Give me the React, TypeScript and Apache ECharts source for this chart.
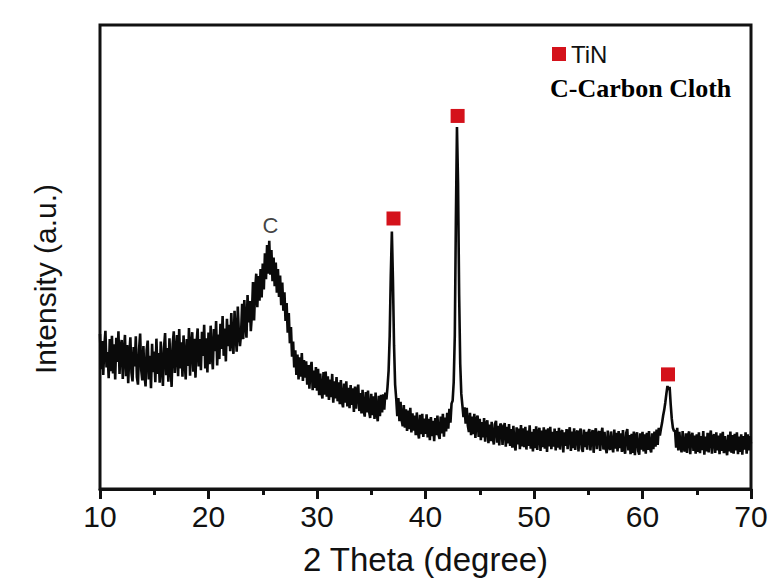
import React, { useEffect, useRef } from "react";
import * as echarts from "echarts";

// 2θ sampling: 10.0° .. 70.0° every 0.1°
const angleStart = 10;
const angleStep = 0.1;

const intensity: number[] = [
  33.4, 25.8, 31.9, 24.6, 30.8, 34.1, 26.2, 29.5, 23.9, 32.3, // 10
  25.4, 33.0, 24.9, 31.2, 23.6, 32.6, 27.4, 34.0, 24.8, 30.5, // 11
  32.1, 23.7, 29.6, 33.2, 24.3, 31.0, 22.8, 28.9, 32.7, 25.1, // 12
  23.2, 30.6, 26.4, 32.9, 24.1, 22.5, 30.1, 33.5, 25.6, 23.4, // 13
  30.8, 24.7, 22.1, 29.9, 32.0, 23.6, 28.7, 21.7, 31.3, 25.2, // 14
  29.6, 23.0, 32.4, 24.8, 29.3, 22.9, 31.8, 26.4, 22.2, 30.5, // 15
  33.6, 24.5, 30.4, 23.1, 32.5, 26.8, 22.0, 31.2, 34.0, 25.0, // 16
  29.1, 33.2, 24.3, 34.5, 26.0, 31.6, 24.2, 33.1, 28.0, 23.6, // 17
  32.3, 26.5, 34.7, 24.4, 30.9, 33.8, 25.3, 32.4, 24.0, 31.5, // 18
  34.6, 26.4, 32.3, 25.6, 33.9, 28.7, 35.4, 26.0, 32.5, 25.1, // 19
  33.7, 26.9, 35.2, 29.2, 25.8, 34.5, 29.7, 36.2, 26.6, 33.3, // 20
  28.0, 35.6, 30.2, 37.3, 28.7, 34.6, 27.5, 36.7, 30.8, 35.4, // 21
  29.7, 37.9, 31.8, 29.1, 38.4, 33.2, 29.6, 39.3, 33.5, 30.8, // 22
  33.4, 39.9, 32.3, 40.7, 35.6, 32.6, 41.8, 35.9, 40.5, 34.0, // 23
  37.6, 44.6, 36.3, 43.0, 46.4, 39.2, 45.9, 40.6, 47.4, 41.3, // 24
  48.6, 43.0, 50.8, 45.2, 52.6, 46.4, 53.5, 46.2, 51.5, 44.8, // 25
  49.9, 43.7, 48.8, 42.3, 47.4, 41.4, 46.0, 39.6, 44.5, 38.4, // 26
  42.4, 36.2, 40.1, 33.7, 37.9, 31.4, 34.9, 28.5, 31.8, 26.2, // 27
  29.9, 24.6, 29.0, 23.6, 28.4, 24.2, 29.3, 23.3, 27.8, 24.0, // 28
  27.5, 22.5, 26.7, 21.6, 26.0, 27.4, 21.3, 25.5, 21.8, 26.3, // 29
  21.2, 25.9, 20.2, 24.9, 21.0, 19.5, 25.2, 20.3, 25.3, 19.9, // 30
  24.3, 19.2, 23.6, 19.8, 24.8, 18.6, 23.2, 19.5, 24.1, 18.9, // 31
  23.0, 18.3, 23.5, 18.8, 17.6, 22.7, 18.6, 23.2, 17.8, 21.8, // 32
  17.4, 22.4, 18.1, 21.7, 16.6, 22.1, 17.3, 21.1, 22.5, 16.8, // 33
  20.7, 16.3, 21.4, 17.0, 15.6, 20.9, 16.5, 21.2, 16.7, 15.3, // 34
  20.5, 15.9, 20.0, 15.1, 20.8, 16.4, 14.6, 20.1, 15.7, 20.3, // 35
  16.5, 20.4, 17.1, 20.8, 19.3, 22.0, 25.5, 33.0, 46.0, 55.5, // 36
  45.0, 31.0, 22.5, 19.5, 15.7, 19.6, 14.6, 18.8, 14.9, 13.5, // 37
  18.1, 13.2, 17.2, 12.5, 16.9, 12.9, 17.5, 12.2, 16.3, 12.6, // 38
  15.8, 11.6, 16.5, 12.3, 10.9, 16.0, 11.8, 16.2, 11.2, 15.2, // 39
  11.9, 16.1, 11.1, 15.1, 10.5, 15.5, 11.4, 14.7, 10.3, 15.3, // 40
  11.6, 15.8, 11.7, 10.8, 15.6, 12.0, 16.2, 11.3, 15.4, 12.4, // 41
  16.4, 13.0, 17.3, 14.3, 18.4, 19.0, 23.0, 33.0, 58.0, 78.0, // 42
  66.0, 42.0, 27.0, 20.5, 18.0, 15.5, 17.6, 14.1, 17.5, 13.7, // 43
  12.3, 16.4, 11.6, 15.6, 11.8, 16.2, 11.0, 15.0, 15.8, 11.2, // 44
  15.1, 10.5, 14.4, 11.1, 15.3, 10.2, 14.1, 14.8, 9.9, 13.9, // 45
  10.3, 14.5, 11.0, 9.6, 14.0, 14.7, 10.0, 13.6, 9.4, 14.1, // 46
  13.7, 9.5, 13.1, 14.2, 9.1, 13.4, 9.8, 14.0, 9.3, 12.9, // 47
  8.9, 13.6, 9.7, 8.3, 13.3, 9.6, 13.0, 8.6, 13.8, 9.2, // 48
  13.1, 9.0, 13.4, 8.5, 12.6, 9.3, 13.7, 8.7, 12.3, 8.1, // 49
  12.9, 8.8, 13.5, 8.4, 12.2, 13.2, 8.2, 12.6, 9.0, 13.3, // 50
  8.7, 12.8, 8.0, 13.1, 9.2, 13.4, 8.6, 12.3, 9.1, 13.0, // 51
  8.3, 12.5, 8.9, 13.2, 8.5, 12.1, 12.7, 7.9, 12.2, 9.3, // 52
  12.9, 8.6, 12.0, 13.3, 8.2, 12.4, 8.8, 13.1, 8.4, 11.9, // 53
  12.6, 8.1, 12.1, 13.0, 8.7, 8.0, 12.8, 9.0, 12.3, 8.5, // 54
  12.1, 12.9, 8.3, 11.6, 12.7, 7.8, 12.0, 13.1, 8.6, 11.8, // 55
  12.5, 8.2, 11.9, 13.2, 8.5, 12.3, 8.9, 7.7, 12.6, 9.2, // 56
  8.4, 12.4, 9.1, 7.9, 12.8, 8.7, 12.1, 8.1, 12.5, 8.8, // 57
  12.0, 8.0, 12.7, 8.9, 7.6, 12.1, 12.9, 8.3, 11.6, 7.5, // 58
  11.9, 7.8, 12.4, 7.3, 11.5, 12.2, 8.2, 7.4, 12.0, 8.5, // 59
  12.3, 8.1, 11.8, 7.6, 12.1, 8.4, 12.5, 8.7, 7.9, 12.0, // 60
  8.6, 12.4, 9.1, 12.8, 9.5, 13.2, 11.5, 13.0, 14.2, 15.8, // 61
  17.0, 18.6, 20.5, 22.2, 21.4, 22.0, 18.2, 15.1, 13.2, 12.5, // 62
  12.6, 8.9, 13.2, 8.3, 12.3, 9.2, 7.9, 12.5, 8.7, 8.1, // 63
  12.0, 7.8, 11.6, 12.4, 7.5, 11.2, 12.1, 8.2, 11.5, 7.6, // 64
  11.8, 8.0, 12.2, 7.7, 11.4, 8.4, 12.5, 7.4, 11.3, 8.1, // 65
  12.1, 7.9, 11.2, 12.6, 7.6, 11.1, 11.8, 7.8, 12.2, 8.3, // 66
  11.5, 7.5, 12.0, 8.2, 12.3, 7.7, 11.4, 8.5, 7.3, 11.7, // 67
  8.1, 12.4, 7.8, 11.6, 7.6, 11.9, 8.3, 12.2, 7.5, 11.3, // 68
  8.0, 11.8, 7.4, 11.4, 8.5, 12.2, 7.6, 11.8, 8.3, 11.4, // 69
  9.8, // 70
];

// TiN reflections (marker positions)
const tinAngles: number[] = [37.05, 42.96, 62.35];
const tinMarks: number[] = [58.3, 80.4, 24.7];

// Carbon annotation
const carbonAngle: number[] = [25.7];
const carbonMark: number[] = [56.8];

const xTicks = { min: 10, max: 70, interval: 10 };

export default function App() {
  const ref = useRef<HTMLDivElement>(null);
  useEffect(() => {
    if (!ref.current) return;
    const chart = echarts.init(ref.current, undefined, { renderer: "svg" });
    const pattern = intensity.map((v, i) => [
      Math.round((angleStart + i * angleStep) * 10) / 10,
      v,
    ]);
    chart.setOption({
      animation: false,
      backgroundColor: "#ffffff",
      grid: {
        left: 100,
        right: 30,
        top: 25,
        bottom: 91,
        show: true,
        borderColor: "#111",
        borderWidth: 3,
      },
      legend: {
        left: 547,
        top: 37,
        data: ["TiN"],
        icon: "rect",
        itemWidth: 14,
        itemHeight: 14,
        itemGap: 8,
        textStyle: {
          fontFamily: "Liberation Sans, Arial, sans-serif",
          fontSize: 24,
          color: "#111",
        },
      },
      graphic: [
        {
          type: "text",
          left: 550,
          top: 75,
          style: {
            text: "C-Carbon Cloth",
            font: "bold 26px 'Liberation Serif', 'Times New Roman', serif",
            fill: "#000",
          },
        },
        {
          type: "text",
          x: 45,
          y: 279,
          rotation: Math.PI / 2,
          style: {
            text: "Intensity (a.u.)",
            font: "30px 'Liberation Sans', Arial, sans-serif",
            fill: "#111",
            textAlign: "center",
            textVerticalAlign: "middle",
          },
        },
      ],
      xAxis: {
        type: "value",
        min: xTicks.min,
        max: xTicks.max,
        interval: xTicks.interval,
        name: "2 Theta (degree)",
        nameLocation: "middle",
        nameGap: 54,
        nameTextStyle: {
          fontFamily: "Liberation Sans, Arial, sans-serif",
          fontSize: 33,
          color: "#111",
        },
        axisLine: { show: true, lineStyle: { color: "#111", width: 3 } },
        axisTick: { show: true, length: 10, lineStyle: { color: "#111", width: 3 } },
        minorTick: { show: true, splitNumber: 2, length: 6, lineStyle: { color: "#111", width: 3 } },
        axisLabel: {
          margin: 12,
          fontFamily: "Liberation Sans, Arial, sans-serif",
          fontSize: 30,
          color: "#111",
        },
        splitLine: { show: false },
      },
      yAxis: {
        type: "value",
        min: 0,
        max: 100,
        axisLine: { show: false },
        axisTick: { show: false },
        axisLabel: { show: false },
        splitLine: { show: false },
      },
      series: [
        {
          name: "pattern",
          type: "line",
          data: pattern,
          showSymbol: false,
          symbol: "none",
          lineStyle: { color: "#0a0a0a", width: 2.6 },
          z: 2,
        },
        {
          name: "TiN",
          type: "scatter",
          data: tinAngles.map((a, i) => [a, tinMarks[i]]),
          symbol: "rect",
          symbolSize: 14,
          itemStyle: { color: "#d4121b", opacity: 1 },
          z: 3,
        },
        {
          name: "C",
          type: "scatter",
          data: carbonAngle.map((a, i) => [a, carbonMark[i]]),
          symbolSize: 0,
          label: {
            show: true,
            position: "inside",
            formatter: "C",
            fontFamily: "Liberation Sans, Arial, sans-serif",
            fontSize: 22,
            color: "#111",
          },
          z: 3,
        },
      ],
    });
    return () => chart.dispose();
  }, []);
  return (
    <div
      ref={ref}
      style={{ position: "absolute", left: 0, top: 0, width: 781, height: 581 }}
    />
  );
}
